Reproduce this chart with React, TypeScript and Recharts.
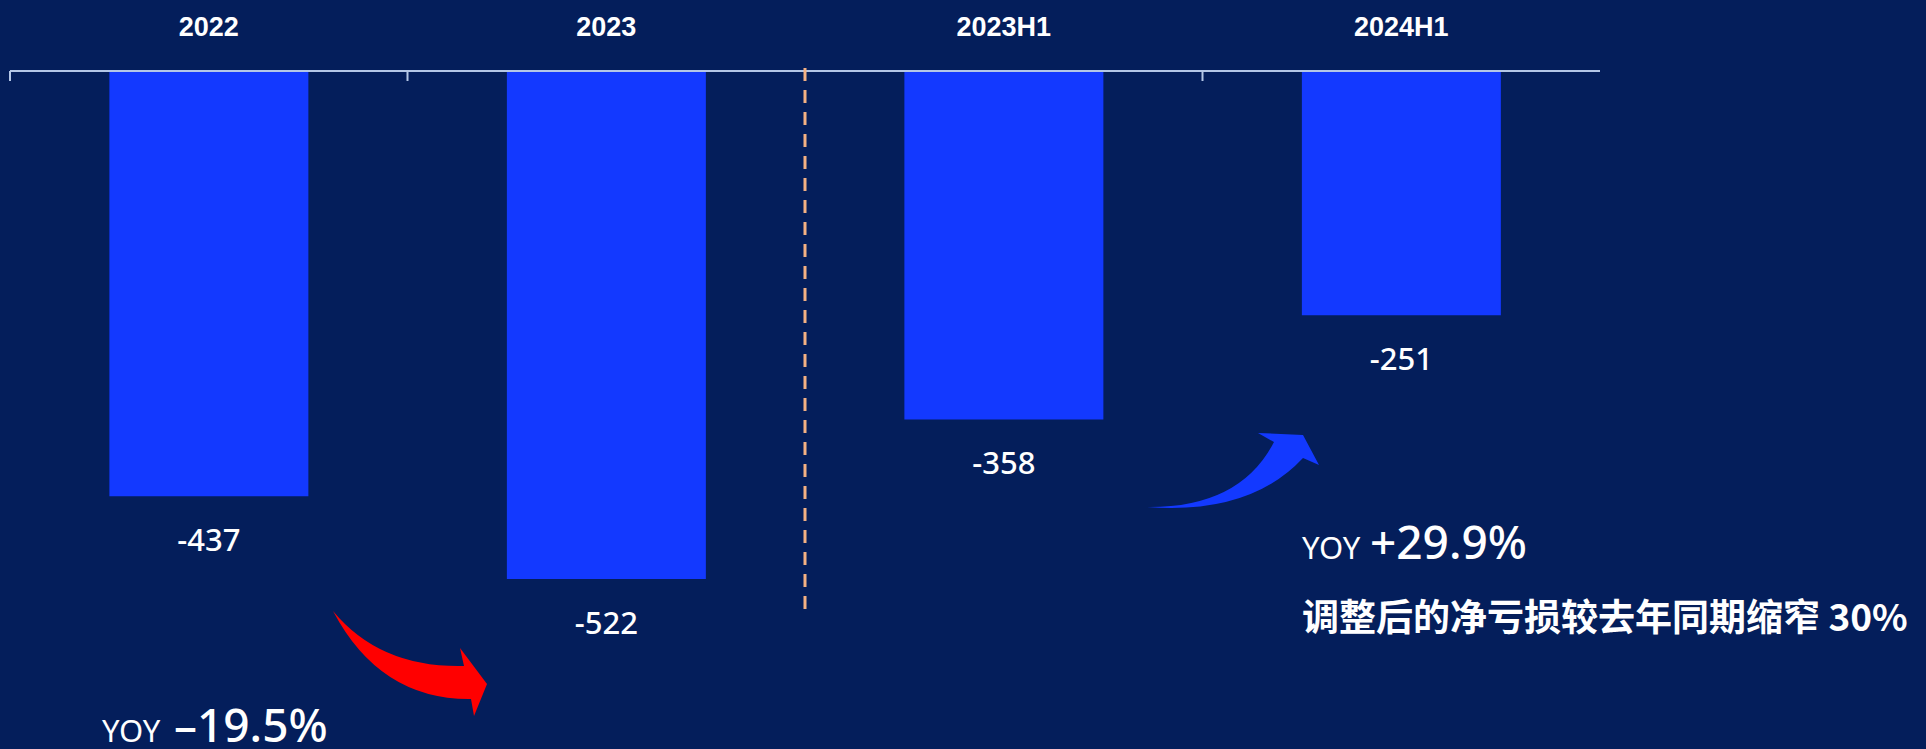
import { BarChart, Bar, XAxis, YAxis, LabelList } from "recharts";

const periods = ["2022", "2023", "2023H1", "2024H1"];
const netLoss = [-437, -522, -358, -251];
const yoyLeft = { tag: "YOY", value: "–19.5%" };
const yoyRight = { tag: "YOY", value: "+29.9%" };
const note = "调整后的净亏损较去年同期缩窄 30%";

const data = periods.map((period, i) => ({ period, value: netLoss[i] }));

const W = 1926;
const H = 749;
const BG = "#041E5B";
const BAR = "#1339FF";
const PLOT_LEFT = 10;
const PLOT_RIGHT = 1600;
const AXIS_Y = 71;
const BAND = (PLOT_RIGHT - PLOT_LEFT) / periods.length;

const CategoryTick = (props: any) => {
  const { x, payload } = props;
  return (
    <text
      x={x}
      y={27}
      textAnchor="middle"
      dominantBaseline="central"
      fill="#FFFFFF"
      fontFamily="'Liberation Sans', Arial, sans-serif"
      fontWeight={700}
      fontSize={27}
    >
      {payload.value}
    </text>
  );
};

const ValueLabel = (props: any) => {
  const { x, y, width, height, value } = props;
  const bottom = Math.max(y, y + height);
  return (
    <text
      x={x + width / 2}
      y={bottom + 43}
      textAnchor="middle"
      dominantBaseline="central"
      fill="#FFFFFF"
      fontFamily="'Noto Sans', sans-serif"
      fontWeight={500}
      fontSize={31}
    >
      {value}
    </text>
  );
};

export default function App() {
  return (
    <div
      style={{
        position: "absolute",
        left: 0,
        top: 0,
        width: W,
        height: H,
        background: BG,
        overflow: "hidden",
      }}
    >
      <BarChart
        width={W}
        height={H}
        data={data}
        margin={{ top: 0, right: W - PLOT_RIGHT, left: PLOT_LEFT, bottom: 94 }}
        barCategoryGap="25%"
      >
        <XAxis
          dataKey="period"
          orientation="top"
          height={AXIS_Y}
          axisLine={{ stroke: "#B4C7E7", strokeWidth: 2 }}
          tickLine={false}
          tick={<CategoryTick />}
          interval={0}
        />
        <YAxis type="number" domain={[-600, 0]} hide allowDataOverflow />
        <Bar dataKey="value" fill={BAR} isAnimationActive={false}>
          <LabelList dataKey="value" content={<ValueLabel />} />
        </Bar>
      </BarChart>

      <svg
        width={W}
        height={H}
        style={{ position: "absolute", left: 0, top: 0, pointerEvents: "none" }}
      >
        {/* boundary ticks */}
        {[0, 1, 3].map((i) => (
          <line
            key={i}
            x1={PLOT_LEFT + i * BAND}
            x2={PLOT_LEFT + i * BAND}
            y1={AXIS_Y}
            y2={AXIS_Y + 10}
            stroke="#B4C7E7"
            strokeWidth={2}
          />
        ))}
        {/* divider between full years and half years */}
        <line
          x1={PLOT_LEFT + 2 * BAND}
          x2={PLOT_LEFT + 2 * BAND}
          y1={AXIS_Y - 3}
          y2={612}
          stroke="#F4B183"
          strokeWidth={3}
          strokeDasharray="13 9"
        />

        {/* red arrow */}
        <path
          d="M 333 611 Q 380 668 464 666 L 460 648 L 487 684 L 474 716 L 471 699 Q 380 700 333 611 Z"
          fill="#FF0000"
        />
        {/* blue arrow */}
        <path
          d="M 1147 507 Q 1240 508 1274 442 L 1258 433 L 1303 435 L 1319 465 L 1303 458 Q 1250 515 1147 507 Z"
          fill={BAR}
        />

        <text x={102} y={742} fill="#FFFFFF" fontFamily="'Noto Sans', sans-serif" fontSize={31}>
          {yoyLeft.tag}
        </text>
        <text x={174} y={742} fill="#FFFFFF" fontFamily="'Noto Sans', sans-serif" fontWeight={500} fontSize={46}>
          {yoyLeft.value}
        </text>

        <text x={1302} y={559} fill="#FFFFFF" fontFamily="'Noto Sans', sans-serif" fontSize={31}>
          {yoyRight.tag}
        </text>
        <text x={1370} y={559} fill="#FFFFFF" fontFamily="'Noto Sans', sans-serif" fontWeight={500} fontSize={46}>
          {yoyRight.value}
        </text>

        <text
          x={1302}
          y={615}
          dominantBaseline="central"
          fill="#FFFFFF"
          fontFamily="'Noto Sans CJK SC', sans-serif"
          fontWeight={700}
          fontSize={37}
        >
          {note}
        </text>
      </svg>
    </div>
  );
}
